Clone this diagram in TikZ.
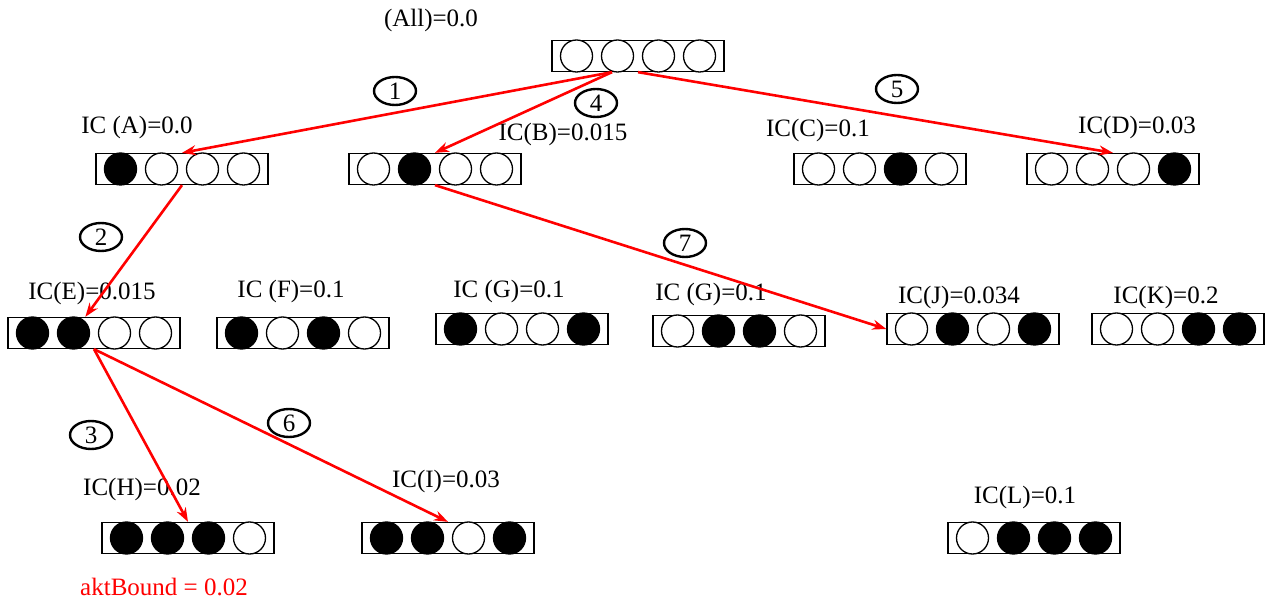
\documentclass[tikz,border=0pt]{standalone}
\usepackage{fontspec}
\setmainfont{Liberation Serif}
\usetikzlibrary{calc,shapes.geometric,arrows.meta}
\tikzset{
  bitbox/.style={draw, line width=1.3pt, minimum width=172pt, minimum height=31pt, inner sep=0pt},
  bit/.style={circle, draw, line width=1.3pt, minimum size=32pt, inner sep=0pt},
  lbl/.style={font=\fontsize{25}{30}\selectfont, inner sep=0pt},
  stepnum/.style={ellipse, draw, line width=2.4pt, minimum width=42pt, minimum height=28pt, inner sep=0pt, font=\fontsize{25}{30}\selectfont},
  arr/.style={draw=red, line width=2.6pt, -{Stealth[length=14pt,width=10pt]}}
}
\newcommand\bitrow[3]{%
  \node[bitbox] (#1) at (#2) {};
  \foreach \f [count=\i] in {#3} {\node[bit, fill=\f] (#1-\i) at ($(#1.center)+(\i*41-102.5,0)$) {};}
}
\begin{document}
\begin{tikzpicture}[x=1pt, y=-1pt]
\useasboundingbox (0,0) rectangle (1272,601);
% boxes
\bitrow{root}{638,56}{white,white,white,white}
\bitrow{A}{182,169}{black,white,white,white}
\bitrow{B}{435,169}{white,black,white,white}
\bitrow{C}{880,169}{white,white,black,white}
\bitrow{D}{1113,169}{white,white,white,black}
\bitrow{E}{94,333}{black,black,white,white}
\bitrow{F}{303,333}{black,white,black,white}
\bitrow{G}{522,329}{black,white,white,black}
\bitrow{G2}{739,331}{white,black,black,white}
\bitrow{J}{973,329}{white,black,white,black}
\bitrow{K}{1178,329}{white,white,black,black}
\bitrow{H}{188,538}{black,black,black,white}
\bitrow{I}{448,538}{black,black,white,black}
\bitrow{L}{1034,538}{white,black,black,black}
% labels
\node[lbl] (lAll) at (431,20) {(All)=0.0};
\node[lbl] (lA) at (137,127) {IC (A)=0.0};
\node[lbl] (lB) at (563,134) {IC(B)=0.015};
\node[lbl] (lC) at (818,130) {IC(C)=0.1};
\node[lbl] (lD) at (1137,127) {IC(D)=0.03};
\node[lbl] (lE) at (92,293) {IC(E)=0.015};
\node[lbl] (lF) at (291,291) {IC (F)=0.1};
\node[lbl] (lG) at (509,291) {IC (G)=0.1};
\node[lbl] (lG2) at (711,294) {IC (G)=0.1};
\node[lbl] (lJ) at (959,297) {IC(J)=0.034};
\node[lbl] (lK) at (1166,297) {IC(K)=0.2};
\node[lbl] (lH) at (142,489) {IC(H)=0.02};
\node[lbl] (lI) at (446,481) {IC(I)=0.03};
\node[lbl] (lL) at (1025,497) {IC(L)=0.1};
\node[lbl, text=red] (bound) at (164,587) {aktBound = 0.02};
% step numbers
\node[stepnum] (s1) at (395,91) {1};
\node[stepnum] (s2) at (101,237) {2};
\node[stepnum] (s3) at (91,435) {3};
\node[stepnum] (s4) at (596,103) {4};
\node[stepnum] (s5) at (897,89) {5};
\node[stepnum] (s6) at (289,423) {6};
\node[stepnum] (s7) at (685,243) {7};
% arrows
\coordinate (rootout) at ($(root.south west)!0.35!(root.south east)$);
\coordinate (Ein) at ($(E.north west)!0.45!(E.north east)$);
\draw[arr] (rootout) -- (A.north);
\draw[arr] (rootout) -- (B.north);
\draw[arr] (root.south) -- (D.north);
\draw[arr] (A.south) -- (Ein);
\draw[arr] (E.south) -- (H.north);
\draw[arr] (E.south) -- (I.north);
\draw[arr] (B.south) -- (J.west);
\end{tikzpicture}
\end{document}
